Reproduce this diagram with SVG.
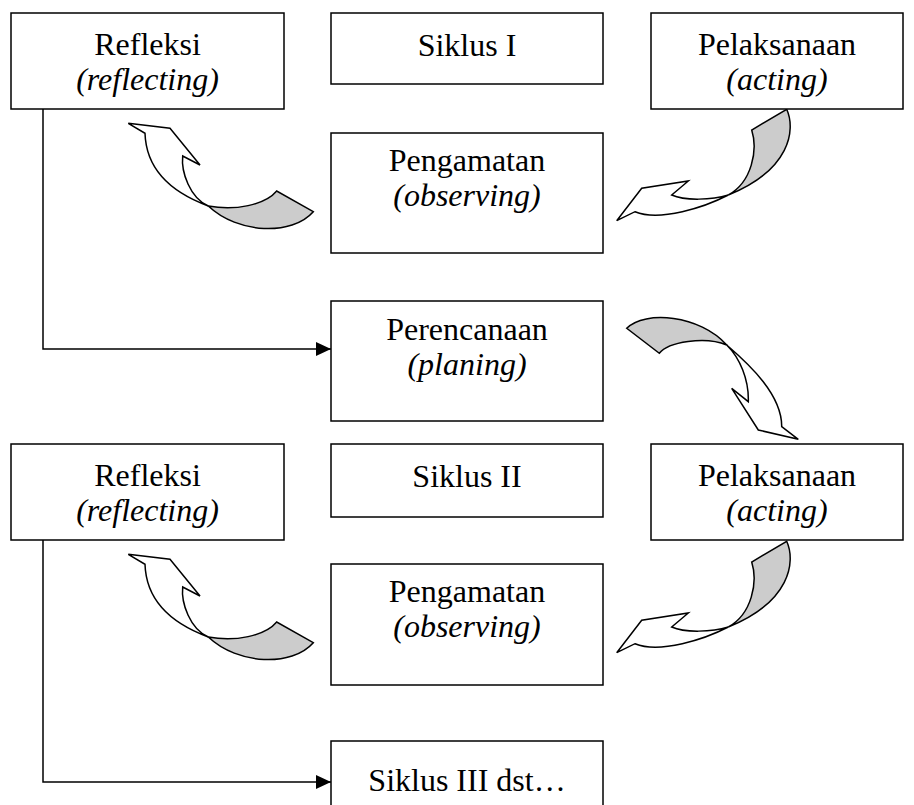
<svg xmlns="http://www.w3.org/2000/svg" width="914" height="805" viewBox="0 0 914 805">
<style>
.box{fill:#fff;stroke:#000;stroke-width:1.5}
.t{font-family:"Liberation Serif","Times New Roman",serif;font-size:32px;fill:#000;text-anchor:middle}
.i{font-style:italic}
.ln{fill:none;stroke:#000;stroke-width:1.5}
.w{fill:#fff;stroke:#000;stroke-width:1.5;stroke-linejoin:miter}
.g{fill:#cccccc;stroke:#000;stroke-width:1.5}
</style>
<defs>
<marker id="ah" viewBox="0 0 15 14" refX="15" refY="7" markerWidth="15" markerHeight="14" markerUnits="userSpaceOnUse" orient="auto">
<path d="M0,0 L15,7 L0,14 Z" fill="#000"/>
</marker>
<g id="arrA">
<path class="g" d="M208.3,206 C235,211 265,205 276.7,191 L313.3,211.7 C292,236 238,234 208.3,206 Z"/>
<path class="w" d="M128.3,123.3 L170,128.3 L200,165 L182.7,156 C181,172 190,198 208.3,206 C165,190 146,165 145,133.3 Z"/>
</g>
<g id="arrB">
<path class="g" d="M786.7,109.3 C796,130 790,170 728.3,195 C752,182 758,150 751.7,130 Z"/>
<path class="w" d="M728.3,195 C705,207 660,222 635,211.7 L616.7,220.7 L641.7,188.3 L688.3,181 L671.7,195 C685,201 712,200 728.3,195 Z"/>
</g>
</defs>
<g id="connectors">
<path class="ln" d="M43,109 V349 H331" marker-end="url(#ah)"/>
<path class="ln" d="M43,540 V782 H331" marker-end="url(#ah)"/>
<use href="#arrA"/>
<use href="#arrB"/>
<g id="arrC">
<path class="g" d="M626.7,328.3 C645,310 700,315 726.7,345 C705,336 668,342 659.3,353.3 Z"/>
<path class="w" d="M726.7,345 C750,365 782,395 781.7,426.7 L798.3,439.3 L758.3,430 L731.7,388.3 L748.3,401.7 C749,380 740,358 726.7,345 Z"/>
</g>
<use href="#arrA" transform="translate(0,431)"/>
<use href="#arrB" transform="translate(0,432)"/>
</g>
<g id="refleksi1">
<rect class="box" x="11" y="13" width="273" height="96"/>
<text class="t" x="147.5" y="55">Refleksi</text>
<text class="t i" x="147.5" y="90">(reflecting)</text>
</g>
<g id="siklus1">
<rect class="box" x="331" y="13" width="272" height="71"/>
<text class="t" x="467" y="56">Siklus I</text>
</g>
<g id="pelaksanaan1">
<rect class="box" x="651" y="13" width="252" height="96"/>
<text class="t" x="777" y="55">Pelaksanaan</text>
<text class="t i" x="777" y="90">(acting)</text>
</g>
<g id="pengamatan1">
<rect class="box" x="331" y="133" width="272" height="120"/>
<text class="t" x="467" y="171">Pengamatan</text>
<text class="t i" x="467" y="206">(observing)</text>
</g>
<g id="perencanaan">
<rect class="box" x="331" y="301" width="272" height="120"/>
<text class="t" x="467" y="340">Perencanaan</text>
<text class="t i" x="467" y="375">(planing)</text>
</g>
<g id="refleksi2">
<rect class="box" x="11" y="444" width="273" height="96"/>
<text class="t" x="147.5" y="486">Refleksi</text>
<text class="t i" x="147.5" y="521">(reflecting)</text>
</g>
<g id="siklus2">
<rect class="box" x="331" y="444" width="272" height="73"/>
<text class="t" x="467" y="487">Siklus II</text>
</g>
<g id="pelaksanaan2">
<rect class="box" x="651" y="444" width="252" height="96"/>
<text class="t" x="777" y="486">Pelaksanaan</text>
<text class="t i" x="777" y="521">(acting)</text>
</g>
<g id="pengamatan2">
<rect class="box" x="331" y="564" width="272" height="121"/>
<text class="t" x="467" y="602">Pengamatan</text>
<text class="t i" x="467" y="637">(observing)</text>
</g>
<g id="siklus3">
<rect class="box" x="331" y="741" width="272" height="80"/>
<text class="t" x="467" y="791">Siklus III dst…</text>
</g>
</svg>
